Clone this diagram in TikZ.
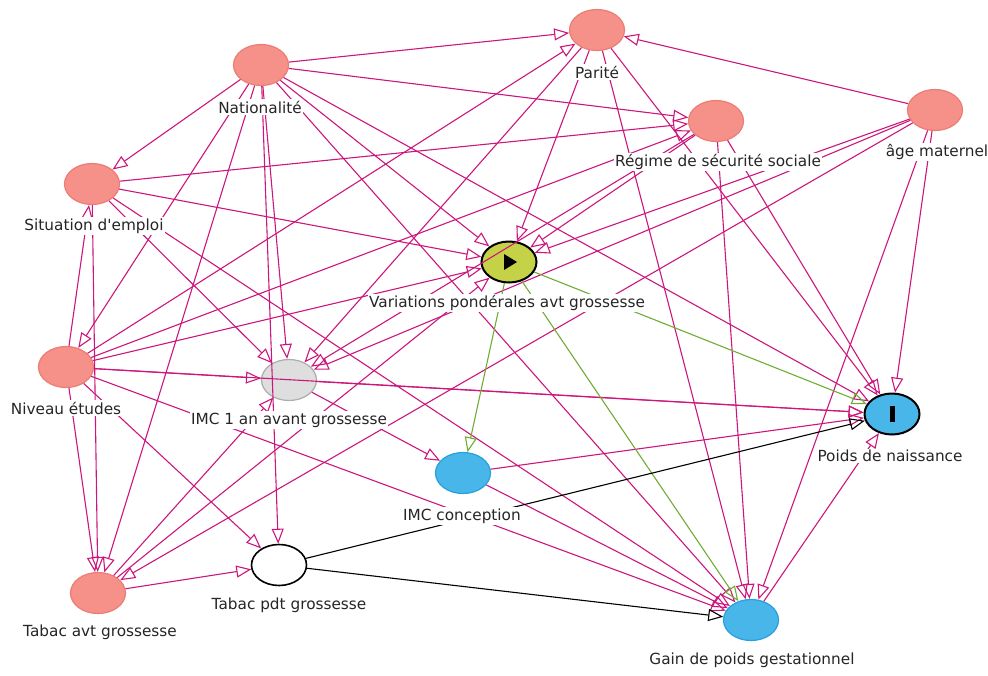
\documentclass[tikz,border=0pt]{standalone}
\usepackage{fontspec}
\setmainfont{DejaVu Sans}[Ligatures=TeXOff]
\usetikzlibrary{arrows.meta,shapes.geometric}
\pgfdeclarelayer{fg}
\pgfsetlayers{main,fg}
\definecolor{bias}{RGB}{205,22,125}
\definecolor{causal}{RGB}{112,172,52}
\definecolor{pinkfill}{RGB}{245,145,137}
\definecolor{pinkdraw}{RGB}{236,125,118}
\definecolor{varfill}{RGB}{197,209,71}
\definecolor{bluefill}{RGB}{72,182,232}
\definecolor{bluedraw}{RGB}{38,160,222}
\definecolor{grayfill}{RGB}{222,222,222}
\definecolor{graydraw}{RGB}{172,172,172}
\begin{document}
\begin{tikzpicture}[x=1pt,y=-1pt,
  vnode/.style={ellipse, minimum width=55pt, minimum height=41pt, inner sep=0pt, line width=1.2pt},
  anc/.style={vnode, fill=pinkfill, draw=pinkdraw},
  expo/.style={vnode, fill=varfill, draw=black, line width=2pt},
  outc/.style={vnode, fill=bluefill, draw=black, line width=2pt},
  med/.style={vnode, fill=bluefill, draw=bluedraw},
  lat/.style={vnode, fill=grayfill, draw=graydraw},
  adj/.style={vnode, fill=white, draw=black, line width=1.6pt},
  lab/.style={fill=white, inner sep=1.5pt, font=\fontsize{15.3}{17}\selectfont, text=black!85},
  tip/.style={-{Triangle[open,length=15pt,width=12pt]}},
  be/.style={draw=bias, line width=1.1pt, tip},
  ce/.style={draw=causal, line width=1.1pt, tip},
  ke/.style={draw=black, line width=1.1pt, tip},
]
\useasboundingbox (0,0) rectangle (988,675);
% nodes
\node[anc]  (Nat)  at (261,65)  {};
\node[anc]  (Par)  at (597,30)  {};
\node[anc]  (Reg)  at (716,121) {};
\node[anc]  (Age)  at (935,110) {};
\node[anc]  (Sit)  at (92,184)  {};
\node[expo] (Var)  at (509,262) {};
\node[anc]  (Niv)  at (66,367)  {};
\node[lat]  (IMC1) at (289,380) {};
\node[outc] (Poids) at (892,414) {};
\node[med]  (IMCc) at (463,473) {};
\node[adj]  (TabP) at (279,565) {};
\node[anc]  (TabA) at (98,593)  {};
\node[med]  (Gain) at (751,620) {};
\fill (Var.center) ++(-5,-8) -- ++(0,16) -- ++(13,-8) -- cycle;
\fill ([shift={(-2.5,-8)}]Poids.center) rectangle ++(5,16);
% edges: Nationalite
\draw[be] (Nat) -- (Sit);
\draw[be] (Nat) -- (Niv);
\draw[be] (Nat) -- (Par);
\draw[be] (Nat) -- (Reg);
\draw[be] (Nat) -- (TabA);
\draw[be] (Nat) -- (IMC1);
\draw[be] (Nat) -- (TabP);
\draw[be] (Nat) -- (Var);
\draw[be] (Nat) -- (Poids);
\draw[be] (Nat) -- (Gain);
% age maternel
\draw[be] (Age) -- (Par);
\draw[be] (Age) -- (Var);
\draw[be] (Age) -- (IMC1);
\draw[be] (Age) -- (TabA);
\draw[be] (Age) -- (Poids);
\draw[be] (Age) -- (Gain);
% niveau etudes
\draw[be] (Niv) -- (Sit);
\draw[be] (Niv) -- (Par);
\draw[be] (Niv) -- (Reg);
\draw[be] (Niv) -- (Var);
\draw[be] (Niv) -- (IMC1);
\draw[be] (Niv) -- (TabA);
\draw[be] (Niv) -- (TabP);
\draw[be] (Niv) -- (Poids);
\draw[be] (Niv) -- (Gain);
% situation emploi
\draw[be] (Sit) -- (Reg);
\draw[be] (Sit) -- (Var);
\draw[be] (Sit) -- (IMC1);
\draw[be] (Sit) -- (TabA);
\draw[be] (Sit) -- (Gain);
% parite
\draw[be] (Par) -- (Var);
\draw[be] (Par) -- (IMC1);
\draw[be] (Par) -- (Poids);
\draw[be] (Par) -- (Gain);
% regime
\draw[be] (Reg) -- (Var);
\draw[be] (Reg) -- (IMC1);
\draw[be] (Reg) -- (Poids);
\draw[be] (Reg) -- (Gain);
% tabac avant
\draw[be] (TabA) -- (Var);
\draw[be] (TabA) -- (IMC1);
\draw[be] (TabA) -- (TabP);
% IMC
\draw[be] (IMC1) -- (IMCc);
\draw[be] (IMC1) -- (Poids);
\draw[be] (IMCc) -- (Poids);
\draw[be] (IMCc) -- (Gain);
\draw[be] (Gain) -- (Poids);
% causal
\draw[ce] (Var) -- (IMCc);
\draw[ce] (Var) -- (Gain);
\draw[ce] (Var) -- (Poids);
% adjusted
\draw[ke] (TabP) -- (Poids);
\draw[ke] (TabP) -- (Gain);
% labels
\begin{pgfonlayer}{fg}
\node[lab] (lNat)  at (260,107) {Nationalité};
\node[lab] (lPar)  at (597,72)  {Parité};
\node[lab] (lReg)  at (718,162) {Régime de sécurité sociale};
\node[lab] (lAge)  at (937,152) {âge maternel};
\node[lab] (lSit)  at (94,226)  {Situation d'emploi};
\node[lab] (lVar)  at (507,303) {Variations pondérales avt grossesse};
\node[lab] (lNiv)  at (66,408)  {Niveau études};
\node[lab] (lIMC1) at (289,420) {IMC 1 an avant grossesse};
\node[lab] (lPoids) at (890,456) {Poids de naissance};
\node[lab] (lIMCc) at (462,516) {IMC conception};
\node[lab] (lTabP) at (289,605) {Tabac pdt grossesse};
\node[lab] (lTabA) at (100,632) {Tabac avt grossesse};
\node[lab] (lGain) at (752,660) {Gain de poids gestationnel};
\end{pgfonlayer}
\end{tikzpicture}
\end{document}
